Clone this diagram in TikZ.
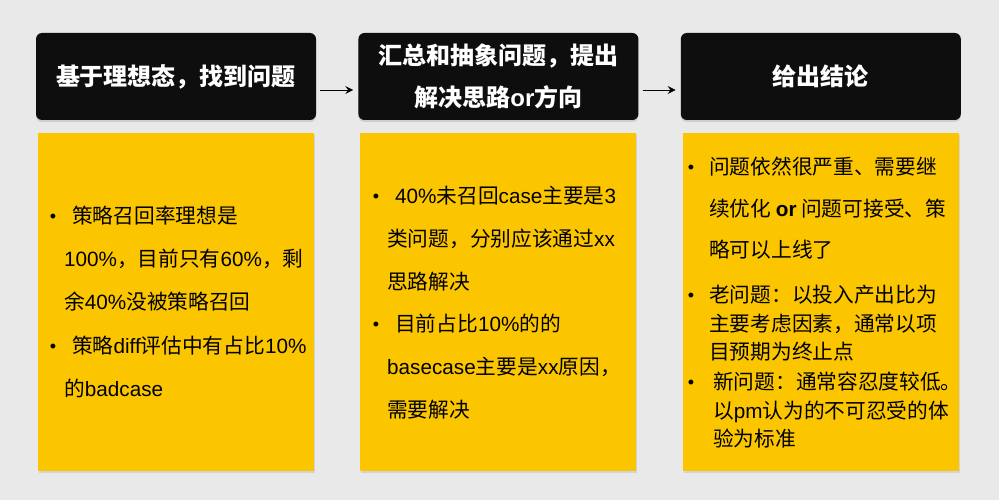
\documentclass[tikz,border=0pt]{standalone}
\usepackage{fontspec}
\setmainfont{Noto Sans CJK SC}
\newfontfamily\latin{Liberation Sans}
\usepackage{tikz}
\usetikzlibrary{arrows.meta, positioning, shadows}
\definecolor{pageGray}{RGB}{233, 233, 233}
\definecolor{stepBlack}{RGB}{14, 14, 14}
\definecolor{noteYellow}{RGB}{251, 198, 0}
\newcommand{\lat}[1]{{\latin #1}}

\begin{document}
\begin{tikzpicture}[x=1pt, y=-1pt,
  node distance=13pt and 42pt,
  head/.style={rectangle, fill=stepBlack, rounded corners=6pt, text=white,
               minimum width=280pt, minimum height=87pt, align=center,
               font=\fontsize{24}{42}\selectfont\bfseries,
               drop shadow={opacity=0.25, shadow xshift=0pt, shadow yshift=-2pt}},
  note/.style={rectangle, fill=noteYellow, minimum width=276pt, minimum height=338pt,
               drop shadow={opacity=0.2, shadow xshift=1pt, shadow yshift=-2pt}},
  item/.style={anchor=base west, align=left, inner sep=0pt,
               font=\fontsize{20.7}{43}\selectfont},
  dot/.style={anchor=base, inner sep=0pt, font=\fontsize{18}{43}\latin},
  flow/.style={-{Stealth[length=8pt, width=8pt, inset=3pt]}, semithick,
               shorten <=4pt, shorten >=5pt},
]
  \fill[pageGray] (0,0) rectangle (999,500);
  \useasboundingbox (0,0) rectangle (999,500);

  % the three steps
  \node[head] (find) at (176,76.5) {基于理想态，找到问题};
  \node[head, right=of find] (sum) {汇总和抽象问题，提出\\解决思路\lat{or}方向};
  \node[head, right=of sum] (end) {给出结论};

  \node[note, below=of find] (findNote) {};
  \node[note, below=of sum] (sumNote) {};
  \node[note, below=of end] (endNote) {};

  \draw[flow] ([yshift=-13.5pt]find.east) -- ([yshift=-13.5pt]sum.west);
  \draw[flow] ([yshift=-13.5pt]sum.east) -- ([yshift=-13.5pt]end.west);

  % first note (items sit on the base of their last line)
  \node[dot] (findDotA) at (53,222.5) {•};
  \node[item] (findItemA) at (64,309.5)
    {\hspace{8pt}策略召回率理想是\\\lat{100\%}，目前只有\lat{60\%}，剩\\余\lat{40\%}没被策略召回};
  \node[dot] (findDotB) at (53,352.5) {•};
  \node[item] (findItemB) at (64,396.5)
    {\hspace{8pt}策略\lat{diff}评估中有占比\lat{10\%}\\的\lat{badcase}};

  % second note
  \node[dot] (sumDotA) at (376,202) {•};
  \node[item] (sumItemA) at (387,289)
    {\hspace{8pt}\lat{40\%}未召回\lat{case}主要是\lat{3}\\类问题，分别应该通过\lat{xx}\\思路解决};
  \node[dot] (sumDotB) at (376,330.5) {•};
  \node[item] (sumItemB) at (387,417.5)
    {\hspace{8pt}目前占比\lat{10\%}的的\\\lat{basecase}主要是\lat{xx}原因，\\需要解决};

  % third note
  \node[dot] (endDotA) at (691,173.5) {•};
  \node[item, font=\fontsize{20.7}{41.5}\selectfont] (endItemA) at (709,257.5)
    {问题依然很严重、需要继\\续优化 {\latin\bfseries or} 问题可接受、策\\略可以上线了};
  \node[dot] (endDotB) at (691,301.5) {•};
  \node[item, font=\fontsize{20.7}{28.6}\selectfont] (endItemB) at (709,359.7)
    {老问题：以投入产出比为\\主要考虑因素，通常以项\\目预期为终止点};
  \node[dot] (endDotC) at (691,388.5) {•};
  \node[item, font=\fontsize{20.7}{28.6}\selectfont] (endItemC) at (713,446.7)
    {新问题：通常容忍度较低。\\以\lat{pm}认为的不可忍受的体\\验为标准};
\end{tikzpicture}
\end{document}
